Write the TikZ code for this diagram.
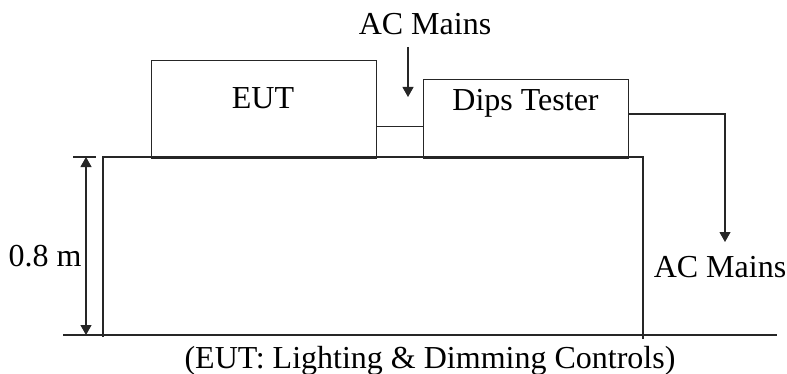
\documentclass[tikz,border=0pt]{standalone}
\usepackage{fontspec}
\setmainfont{Liberation Serif}
\usetikzlibrary{arrows.meta,calc}
\begin{document}
\begin{tikzpicture}[x=0.5pt,y=-0.5pt,
  every node/.style={font=\fontsize{16}{19}\selectfont, inner sep=0pt},
  ln/.style={draw=black!85, line width=0.55pt},
  box/.style={ln, rectangle, anchor=north west},
  lbl/.style={anchor=base},
  arr/.style={ln, -{Triangle[length=5pt,width=5.5pt]}},
  dim/.style={ln, {Triangle[length=5pt,width=5.5pt]}-{Triangle[length=5pt,width=5.5pt]}}]
\useasboundingbox (0,0) rectangle (787,374);
% table and floor
\draw[ln] (103,337) -- (103,157) -- (643,157) -- (643,339);
\draw[ln] (63,335) -- (777,335);
% dimension
\draw[ln] (73,157) -- (96,157);
\coordinate (dimtop) at (86,157);
\coordinate (dimbot) at (86,335);
\draw[dim] (dimtop) -- (dimbot);
\node[lbl] (dimlbl) at (45,266) {0.8 m};
% boxes
\node[box, minimum width=112.5pt, minimum height=49pt] (eut) at (151,60) {};
\node[lbl] (eutlbl) at (263,109) {EUT};
\node[box, minimum width=102.5pt, minimum height=39.5pt] (dips) at (423,79) {};
\node[lbl] (dipslbl) at (525.5,111) {Dips Tester};
% EUT to Dips
\draw[ln] ([yshift=-8.5pt]eut.east) -- ([yshift=-8.5pt]eut.east -| dips.west);
% AC mains in
\node[lbl] (acin) at (425,35) {AC Mains};
\coordinate (acinstart) at (408,47);
\coordinate (acintip) at (408,97);
\draw[arr] (acinstart) -- (acintip);
% AC mains out
\coordinate (acouttip) at (725,242);
\draw[arr] ([yshift=2.5pt]dips.east) -| (acouttip);
\node[lbl] (acout) at (720,277) {AC Mains};
% caption
\node[lbl] (caption) at (430,368) {(EUT: Lighting \& Dimming Controls)};
\end{tikzpicture}
\end{document}
